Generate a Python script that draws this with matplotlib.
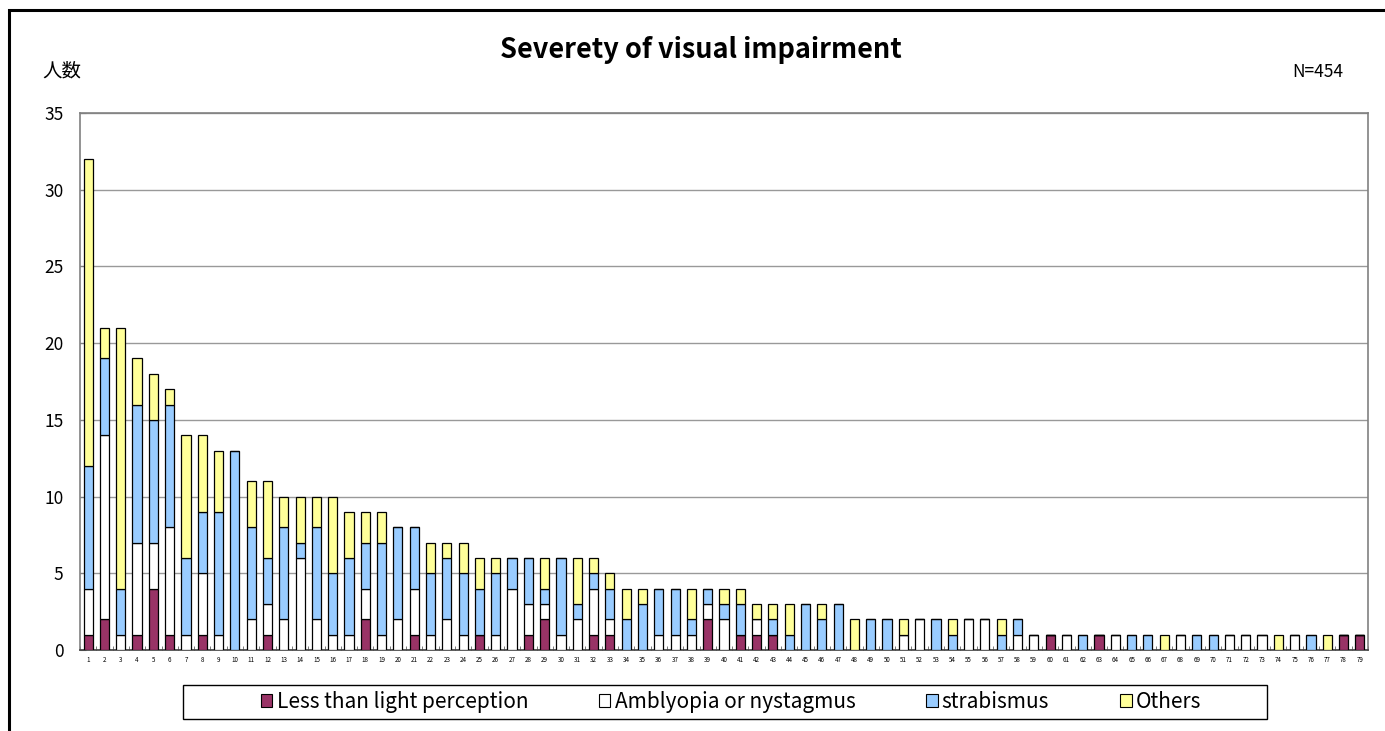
import numpy as np
import matplotlib
matplotlib.use("Agg")
import matplotlib.pyplot as plt
from matplotlib.patches import Rectangle, Patch

plt.rcParams['font.family'] = ['Noto Sans CJK JP', 'DejaVu Sans']

# categories 1..79
cats = [str(i) for i in range(1, 80)]

less_light = [1, 2, 0, 1, 4, 1, 0, 1, 0, 0,
              0, 1, 0, 0, 0, 0, 0, 2, 0, 0,
              1, 0, 0, 0, 1, 0, 0, 1, 2, 0,
              0, 1, 1, 0, 0, 0, 0, 0, 2, 0,
              1, 1, 1, 0, 0, 0, 0, 0, 0, 0,
              0, 0, 0, 0, 0, 0, 0, 0, 0, 1,
              0, 0, 1, 0, 0, 0, 0, 0, 0, 0,
              0, 0, 0, 0, 0, 0, 0, 1, 1]
amblyopia = [3, 12, 1, 6, 3, 7, 1, 4, 1, 0,
             2, 2, 2, 6, 2, 1, 1, 2, 1, 2,
             3, 1, 2, 1, 0, 1, 4, 2, 1, 1,
             2, 3, 1, 0, 0, 1, 1, 1, 1, 2,
             0, 1, 0, 0, 0, 0, 0, 0, 0, 0,
             1, 2, 0, 0, 2, 2, 0, 1, 1, 0,
             1, 0, 0, 1, 0, 0, 0, 1, 0, 0,
             1, 1, 1, 0, 1, 0, 0, 0, 0]
strabismus = [8, 5, 3, 9, 8, 8, 5, 4, 8, 13,
              6, 3, 6, 1, 6, 4, 5, 3, 6, 6,
              4, 4, 4, 4, 3, 4, 2, 3, 1, 5,
              1, 1, 2, 2, 3, 3, 3, 1, 1, 1,
              2, 0, 1, 1, 3, 2, 3, 0, 2, 2,
              0, 0, 2, 1, 0, 0, 1, 1, 0, 0,
              0, 1, 0, 0, 1, 1, 0, 0, 1, 1,
              0, 0, 0, 0, 0, 1, 0, 0, 0]
others = [20, 2, 17, 3, 3, 1, 8, 5, 4, 0,
          3, 5, 2, 3, 2, 5, 3, 2, 2, 0,
          0, 2, 1, 2, 2, 1, 0, 0, 2, 0,
          3, 1, 1, 2, 1, 0, 0, 2, 0, 1,
          1, 1, 1, 2, 0, 1, 0, 2, 0, 0,
          1, 0, 0, 1, 0, 0, 1, 0, 0, 0,
          0, 0, 0, 0, 0, 0, 1, 0, 0, 0,
          0, 0, 0, 1, 0, 0, 1, 0, 0]

series = [("Less than light perception", less_light, "#993366"),
          ("Amblyopia or nystagmus", amblyopia, "#FFFFFF"),
          ("strabismus", strabismus, "#99CCFF"),
          ("Others", others, "#FFFF99")]

W, H = 1385, 731
fig = plt.figure(figsize=(W / 100, H / 100), dpi=100)
ax = fig.add_axes([80 / W, 81 / H, 1288 / W, 537 / H])

x = np.arange(1, len(cats) + 1)
bottom = np.zeros(len(cats))
for name, vals, col in series:
    v = np.array(vals, dtype=float)
    ax.bar(x, v, 0.56, bottom=bottom, color=col, edgecolor="black",
           linewidth=0.9, zorder=3)
    bottom += v

ax.set_xlim(0.5, len(cats) + 0.5)
ax.set_ylim(0, 35)
ax.set_yticks(range(0, 36, 5))
ax.tick_params(axis='y', direction='in', length=4, labelsize=12.5, pad=12,
               color="#808080")
ax.set_xticks(x)
ax.set_xticklabels(cats, fontsize=4.5)
ax.tick_params(axis='x', length=0, pad=4)
ax.set_xticks(np.arange(0.5, len(cats) + 1, 1), minor=True)
ax.tick_params(axis='x', which='minor', direction='in', length=3, color="#606060")
ax.grid(axis='y', color="#999999", linewidth=1, zorder=0)
for s in ax.spines.values():
    s.set_color("#808080")
    s.set_linewidth(1.2)
ax.spines['bottom'].set_color("#404040")

fig.text(701 / W, 1 - 50 / H, "Severety of visual impairment",
         ha='center', va='center', fontsize=19.5, fontweight='bold')
fig.text(42 / W, 1 - 71 / H, "人数", ha='left', va='center', fontsize=14)
fig.text(1343 / W, 1 - 72 / H, "N=454", ha='right', va='center', fontsize=12.5)

# legend box
fig.patches.append(Rectangle((183 / W, 1 - 719 / H), 1084 / W, 34 / H,
                             transform=fig.transFigure, fill=False,
                             edgecolor="black", linewidth=1))
handles = [Patch(facecolor=c, edgecolor="black", linewidth=0.8) for _, _, c in series]
fig.legend(handles, [n for n, _, _ in series], loc='center',
           bbox_to_anchor=(731 / W, 1 - 702 / H), ncol=4, frameon=False,
           fontsize=15, handlelength=0.55, handleheight=0.55,
           handletextpad=0.2, columnspacing=3.4, borderpad=0.2)

# outer chart frame
fig.patches.append(Rectangle((9 / W, -0.05), 1.05, 1.05 - 10 / H,
                             transform=fig.transFigure, fill=False,
                             edgecolor="black", linewidth=2.2))

fig.savefig("out.png", dpi=100)
